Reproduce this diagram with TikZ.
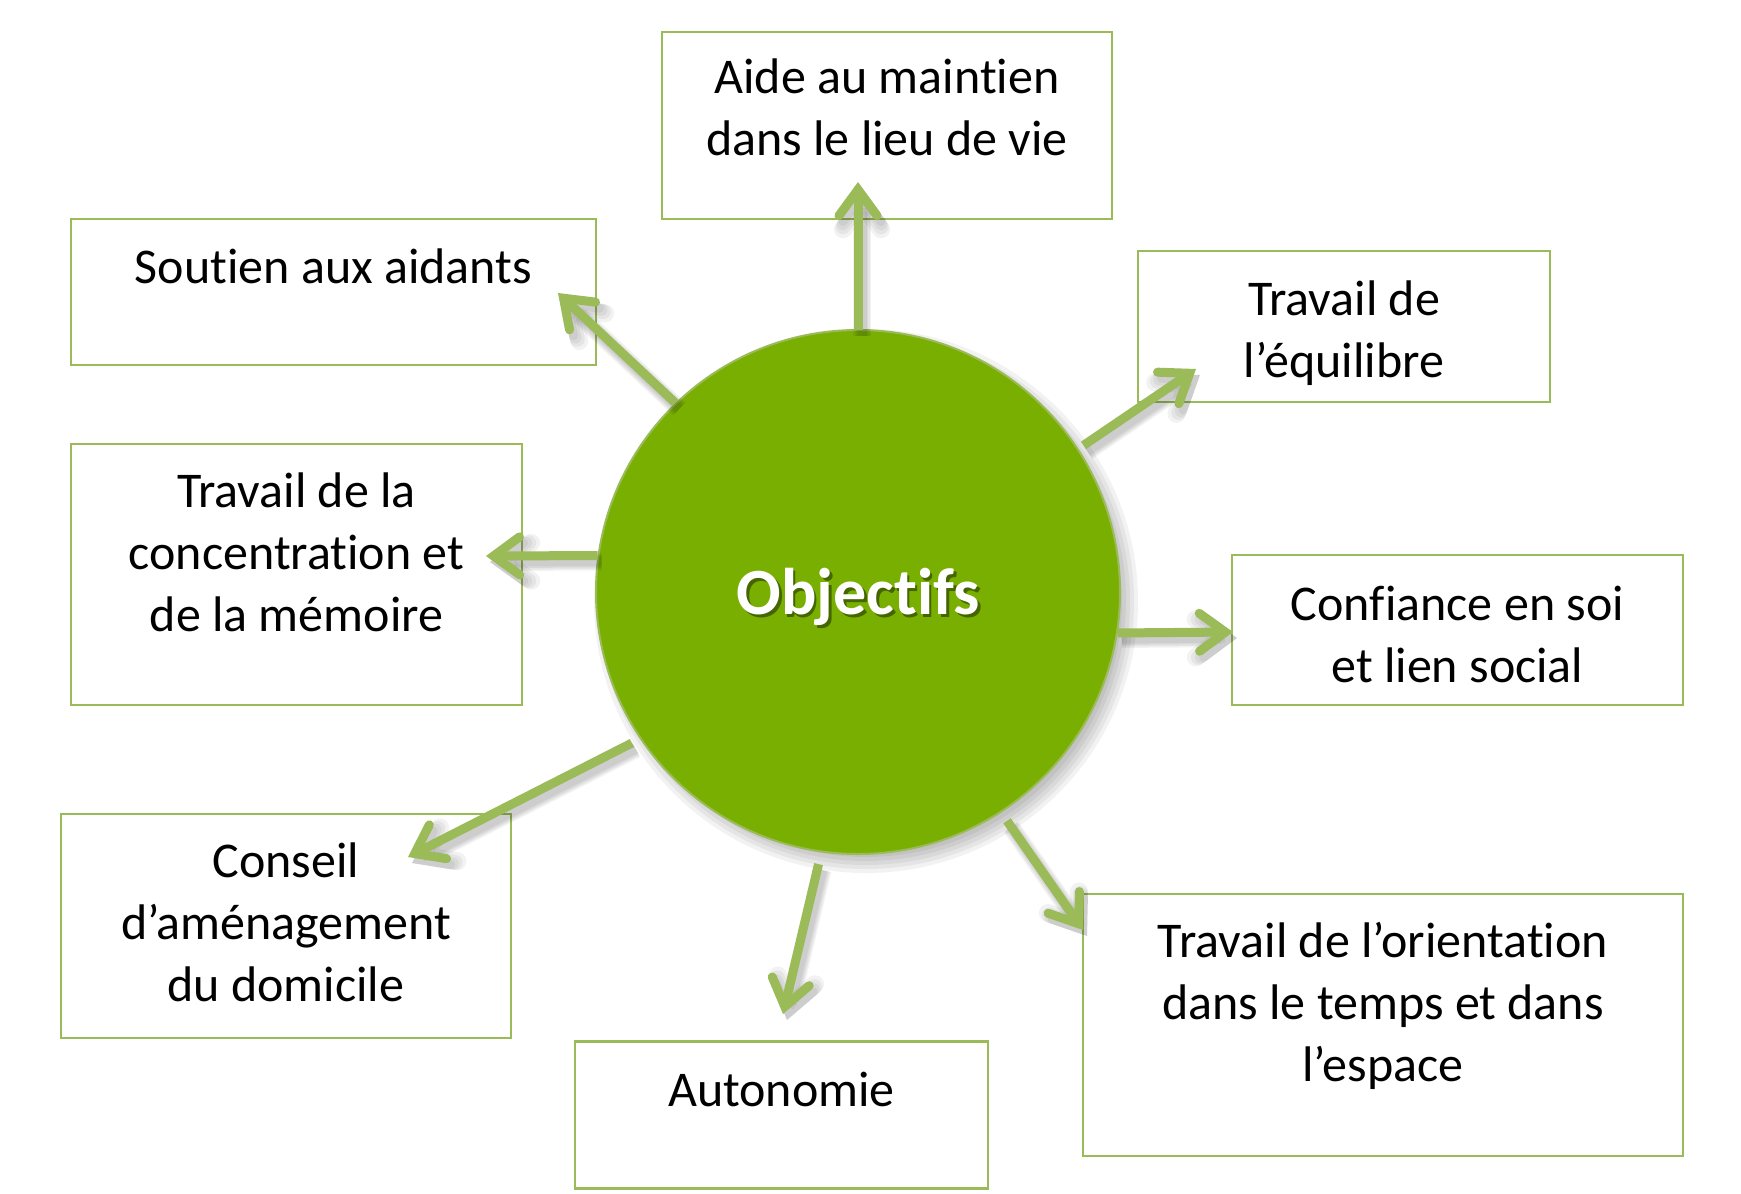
\documentclass[tikz,border=0pt]{standalone}
\usepackage{fontspec}
\setmainfont{Carlito}[Ligatures=NoCommon]
\usetikzlibrary{arrows.meta}
\definecolor{boxgreen}{RGB}{155,187,89}
\definecolor{circgreen}{RGB}{120,175,0}
\tikzset{
  boxnode/.style={draw=boxgreen, line width=1.3pt, rectangle, inner sep=0pt, outer sep=0pt, fill=white},
  labelnode/.style={anchor=base, text width=#1, align=flush center, inner sep=0pt, font=\fontsize{25}{31}\selectfont},
  tipstyle/.style={-{Straight Barb[length=13pt,width=19pt,line cap=round]}},
  link/.style={draw=boxgreen, line width=4.5pt, tipstyle},
  linkshadow/.style={draw=black, opacity=0.05, tipstyle},
}
\begin{document}
\begin{tikzpicture}[x=0.5pt, y=-0.5pt]
\useasboundingbox (0,0) rectangle (1741,1194);
\fill[white] (0,0) rectangle (1741,1194);

% boxes
\node[boxnode, minimum width=225pt, minimum height=93.5pt] (aide) at (887,125.5) {};
\node[boxnode, minimum width=262.5pt, minimum height=73pt] (sout) at (333.5,292) {};
\node[boxnode, minimum width=206pt, minimum height=75.5pt] (equi) at (1344,326.5) {};
\node[boxnode, minimum width=225.5pt, minimum height=130.5pt] (conc) at (296.5,574.5) {};
\node[boxnode, minimum width=225.5pt, minimum height=75pt] (conf) at (1457.5,630) {};
\node[boxnode, minimum width=225pt, minimum height=112pt] (cons) at (286,926) {};
\node[boxnode, minimum width=206.5pt, minimum height=73.5pt] (auto) at (781.5,1115) {};
\node[boxnode, minimum width=300pt, minimum height=131pt] (orie) at (1383,1025) {};

% labels
\node[labelnode=225pt] (laide) at (887,93) {Aide au maintien\\dans le lieu de vie};
\node[labelnode=262pt] (lsout) at (333.5,283) {Soutien aux aidants};
\node[labelnode=206pt] (lequi) at (1344,315) {Travail de\\l’équilibre};
\node[labelnode=225pt] (lconc) at (296.5,507) {Travail de la\\concentration et\\de la mémoire};
\node[labelnode=225pt] (lconf) at (1457.5,620) {Confiance en soi\\et lien social};
\node[labelnode=225pt] (lcons) at (286,877) {Conseil\\d’aménagement\\du domicile};
\node[labelnode=206pt] (lauto) at (781.5,1106) {Autonomie};
\node[labelnode=300pt] (lorie) at (1383,957) {Travail de l’orientation\\dans le temps et dans\\l’espace};

% circle shadow
\foreach \r in {256,260,264,268,272}{
  \fill[black, opacity=0.05] (866,601) circle[radius=\r];
}
\node[circle, minimum size=262pt, inner sep=0pt, outer sep=0pt, fill=circgreen, draw=boxgreen, line width=1pt] (obj) at (858,592) {};
\node[anchor=base, inner sep=0pt, text=black!70!circgreen, opacity=0.6, font=\fontsize{33}{40}\bfseries\selectfont] (objsh) at (861,617) {Objectifs};
\node[anchor=base, inner sep=0pt, text=white, font=\fontsize{33}{40}\bfseries\selectfont] (objt) at (858.5,614) {Objectifs};

% arrow tips
\coordinate (taide) at (858,182);
\coordinate (tsout) at (558,293);
\coordinate (tequi) at (1196,369);
\coordinate (tconc) at (486,556);
\coordinate (tconf) at (1233,632);
\coordinate (tcons) at (408,857);
\coordinate (tauto) at (783,1014);
\coordinate (tori) at (1083,930);

% arrow shadows
\foreach \ang/\tip/\sh in {90/taide/0, 134.7/tsout/0.5, 33.3/tequi/3.5, 172.1/tconc/0.5, 351.3/tconf/0.5, 214.2/tcons/5, 262.3/tauto/6.5, 303.8/tori/5.5}{
  \foreach \w in {4.5,6,7.5,9}{
    \draw[linkshadow, line width=\w pt, shorten <=\sh pt, transform canvas={shift={(2pt,-3pt)}}] (obj.\ang) -- (\tip);
  }
}
% arrows
\foreach \ang/\tip/\sh in {90/taide/0, 134.7/tsout/0.5, 33.3/tequi/3.5, 172.1/tconc/0.5, 351.3/tconf/0.5, 214.2/tcons/5, 262.3/tauto/6.5, 303.8/tori/5.5}{
  \draw[link, shorten <=\sh pt] (obj.\ang) -- (\tip);
}
\end{tikzpicture}
\end{document}
